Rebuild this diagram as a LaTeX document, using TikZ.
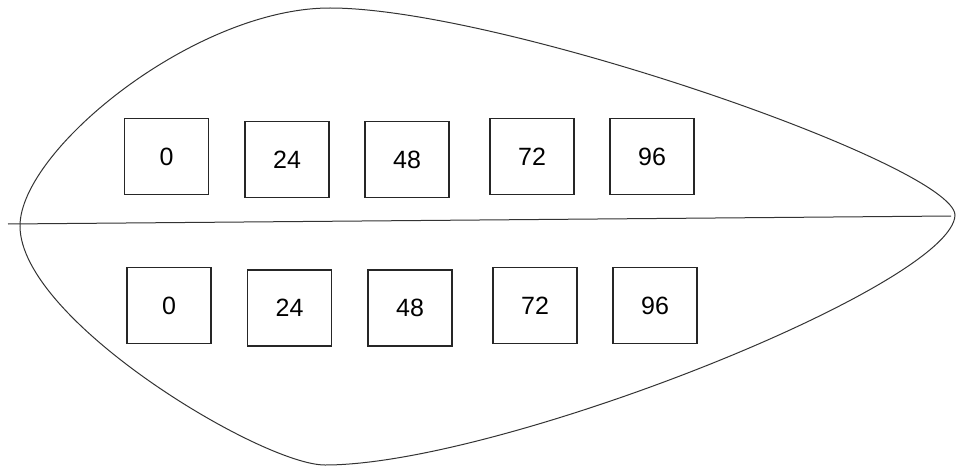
\documentclass[tikz,border=0pt]{standalone}
\usepackage{fontspec}
\setmainfont{Liberation Sans}
\begin{document}
\begin{tikzpicture}[x=1pt,y=-1pt,
  cell/.style={draw=black!85,line width=1.1pt,minimum width=84pt,minimum height=76pt,inner sep=0pt,font=\fontsize{25}{27}\selectfont},
  outline/.style={draw=black!80,line width=1pt}]
\useasboundingbox (0,0) rectangle (957,468);
\coordinate (A) at (20,226);
\coordinate (T) at (330,8);
\coordinate (P) at (955,215);
\coordinate (B) at (325,465);
\draw[outline] (A) .. controls (20,150) and (195,8) .. (T)
  .. controls (500,8) and (953,165) .. (P)
  .. controls (953,285) and (500,465) .. (B)
  .. controls (262,465) and (20,320) .. (A) -- cycle;
\coordinate (L) at (8,224);
\coordinate (R) at (951,216);
\draw[outline] (L) -- (R);
\node[cell] (t0) at (166.5,156.5) {0};
\node[cell] (t24) at (287,159.5) {24};
\node[cell] (t48) at (407,159.5) {48};
\node[cell] (t72) at (532,156.5) {72};
\node[cell] (t96) at (652,156.5) {96};
\node[cell] (b0) at (169,305.5) {0};
\node[cell] (b24) at (289.5,308) {24};
\node[cell] (b48) at (410,308) {48};
\node[cell] (b72) at (535,305.5) {72};
\node[cell] (b96) at (655,305.5) {96};
\end{tikzpicture}
\end{document}
